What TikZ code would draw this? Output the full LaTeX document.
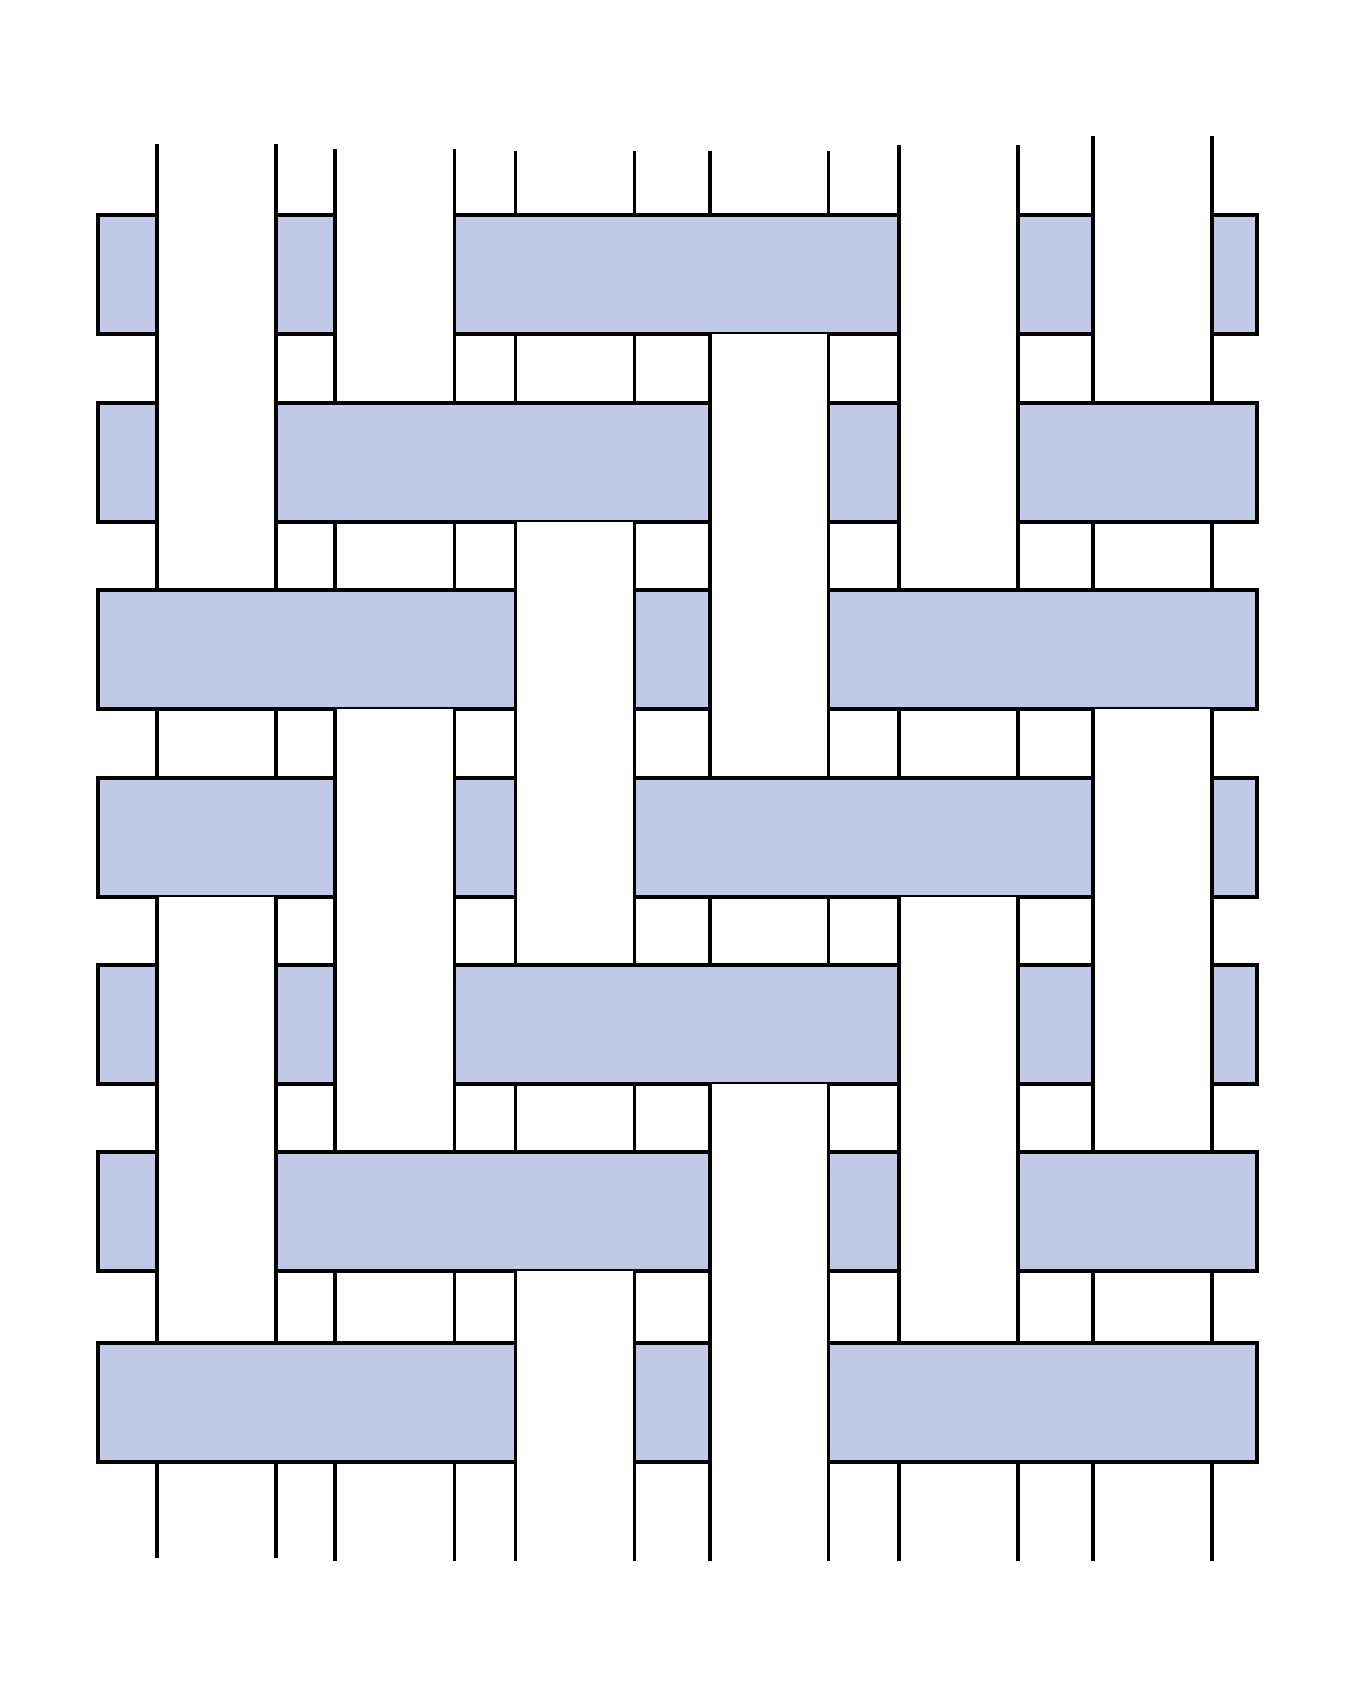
\documentclass[tikz,border=0pt]{standalone}
\definecolor{weftblue}{RGB}{192,201,230}
\tikzset{warp/.style={line width=2pt},
  weftbar/.style={draw=black,fill=weftblue,line width=2pt}}
\begin{document}
\begin{tikzpicture}[x=0.02cm,y=-0.02cm]
\useasboundingbox (0,0) rectangle (1357,1688);
\foreach \a/\b/\t/\e in {157/276/144/1558,335/454.5/149/1561,515.6/634.4/151/1561,710/828.5/151/1561,899/1018/145/1561,1093/1212/136/1561}
  \draw[warp] (\a,\t)--(\a,\e) (\b,\t)--(\b,\e);
\foreach \t in {215,403,590,778,965,1152,1343}
  \filldraw[weftbar] (98,\t) rectangle (1257,\t+119);
\foreach \a/\b/\t/\e in {157/276/212/524,157/276/897/1273,335/454.5/212/336,335/454.5/709/1086,515.6/634.4/522/899,515.6/634.4/1271/1464,710/828.5/334/711,710/828.5/1084/1464,899/1018/212/524,899/1018/897/1273,1093/1212/212/336,1093/1212/709/1086}
  {\fill[white] (\a,\t) rectangle (\b,\e);
   \draw[warp] (\a,\t)--(\a,\e) (\b,\t)--(\b,\e);}
\end{tikzpicture}
\end{document}
